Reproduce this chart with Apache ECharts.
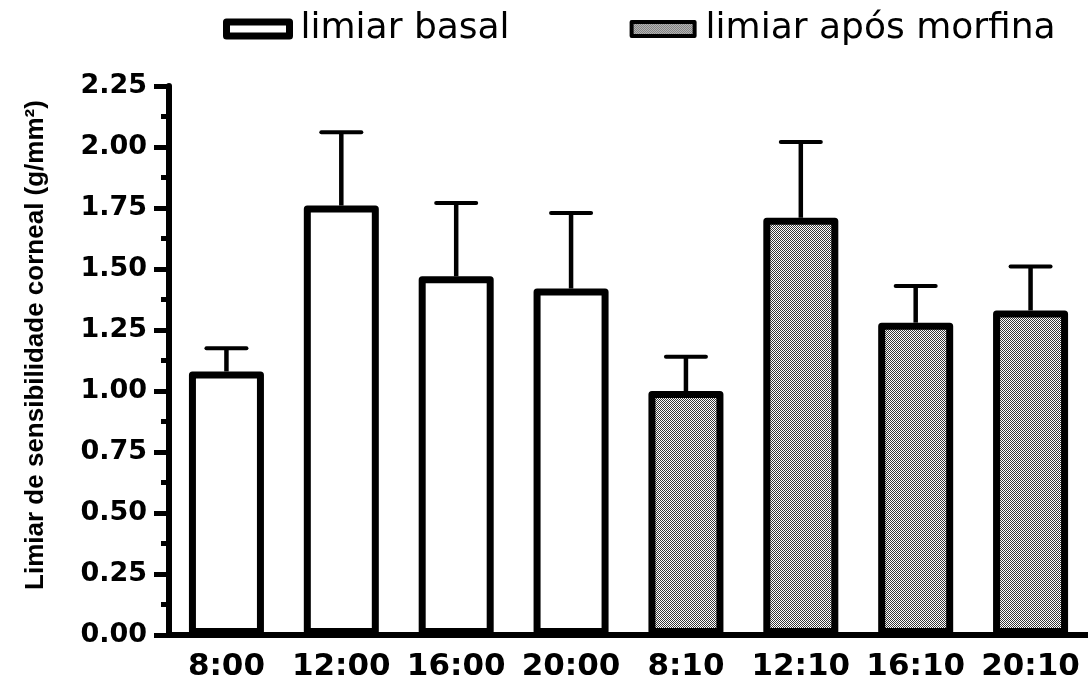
<!DOCTYPE html>
<html>
<head>
<meta charset="utf-8">
<script src="https://cdn.jsdelivr.net/npm/echarts@6/dist/echarts.min.js"></script>
<style>
html, body { margin: 0; padding: 0; background: #fff; }
#main { width: 1088px; height: 682px; }
</style>
</head>
<body>
<div id="main"></div>
<script>
// categorias e valores (média e erro padrão)
var categories = ['8:00', '12:00', '16:00', '20:00', '8:10', '12:10', '16:10', '20:10'];
var basal = [1.08, 1.76, 1.47, 1.42, null, null, null, null];
var morfina = [null, null, null, null, 1.00, 1.71, 1.28, 1.33];
var erro = [0.095, 0.30, 0.30, 0.31, 0.14, 0.31, 0.15, 0.18];
var legendNames = ['limiar basal', 'limiar após morfina'];
var yName = 'Limiar de sensibilidade corneal (g/mm²)';

// padrão quadriculado das barras cinzas
function makePattern() {
    var c = document.createElement('canvas');
    c.width = 2; c.height = 2;
    var ctx = c.getContext('2d');
    ctx.fillStyle = '#ffffff';
    ctx.fillRect(0, 0, 2, 2);
    ctx.fillStyle = '#383838';
    ctx.fillRect(0, 0, 1, 1);
    ctx.fillRect(1, 1, 1, 1);
    return { image: c, repeat: 'repeat' };
}
var gray = makePattern();

var means = categories.map(function (c, i) {
    return basal[i] != null ? basal[i] : morfina[i];
});
var errData = categories.map(function (c, i) {
    return [i, means[i], means[i] + erro[i]];
});

var chart = echarts.init(document.getElementById('main'));

var option = {
    animation: false,
    backgroundColor: '#fff',
    grid: { left: 169, right: -10, top: 86, bottom: 40, containLabel: false },
    legend: {
        left: 218,
        top: 6,
        itemWidth: 63,
        itemHeight: 14,
        itemGap: 120,
        textStyle: { fontFamily: 'DejaVu Sans', fontSize: 36, color: '#000', padding: [0, 0, 0, 6] },
        data: [
            { name: legendNames[0], icon: 'rect', itemStyle: { color: '#fff', borderColor: '#000', borderWidth: 7 } },
            { name: legendNames[1], icon: 'rect', itemStyle: { color: gray, borderColor: '#000', borderWidth: 4 } }
        ]
    },
    graphic: [{
        type: 'text',
        x: 36,
        y: 345,
        rotation: Math.PI / 2,
        style: {
            text: yName,
            font: 'bold 26px "Liberation Sans", Arial, sans-serif',
            fill: '#000',
            align: 'center',
            verticalAlign: 'middle'
        }
    }],
    xAxis: {
        type: 'category',
        data: categories,
        boundaryGap: true,
        axisLine: { lineStyle: { color: '#000', width: 6 } },
        axisTick: { alignWithLabel: true, length: 11, lineStyle: { color: '#000', width: 6 } },
        axisLabel: { interval: 0, color: '#000', fontFamily: 'DejaVu Sans', fontWeight: 'bold', fontSize: 31, margin: 16 }
    },
    yAxis: {
        type: 'value',
        min: 0,
        max: 2.25,
        interval: 0.25,
        splitLine: { show: false },
        axisLine: { show: true, lineStyle: { color: '#000', width: 6 } },
        axisTick: { show: true, length: 15, lineStyle: { color: '#000', width: 5 } },
        minorTick: { show: true, splitNumber: 2, length: 8, lineStyle: { color: '#000', width: 5 } },
        axisLabel: {
            color: '#000', fontFamily: 'DejaVu Sans', fontWeight: 'bold', fontSize: 27, margin: 22,
            formatter: function (v) { return v.toFixed(2); }
        }
    },
    series: [
        {
            name: legendNames[0],
            type: 'bar',
            data: basal,
            barWidth: 75,
            barGap: '-100%',
            itemStyle: { color: '#fff', borderColor: '#000', borderWidth: 7, borderJoin: 'round' },
            z: 2
        },
        {
            name: legendNames[1],
            type: 'bar',
            data: morfina,
            barWidth: 75,
            barGap: '-100%',
            itemStyle: { color: gray, borderColor: '#000', borderWidth: 7, borderJoin: 'round' },
            z: 2
        },
        {
            type: 'custom',
            data: errData,
            z: 1,
            renderItem: function (params, api) {
                var x = api.value(0);
                var lo = api.coord([x, api.value(1)]);
                var hi = api.coord([x, api.value(2)]);
                var half = 20;
                return {
                    type: 'group',
                    children: [
                        { type: 'line', shape: { x1: lo[0], y1: lo[1], x2: hi[0], y2: hi[1] }, style: { stroke: '#000', lineWidth: 4.5 } },
                        { type: 'line', shape: { x1: hi[0] - half, y1: hi[1], x2: hi[0] + half, y2: hi[1] }, style: { stroke: '#000', lineWidth: 4, lineCap: 'round' } }
                    ]
                };
            }
        }
    ]
};

chart.setOption(option);
</script>
</body>
</html>
